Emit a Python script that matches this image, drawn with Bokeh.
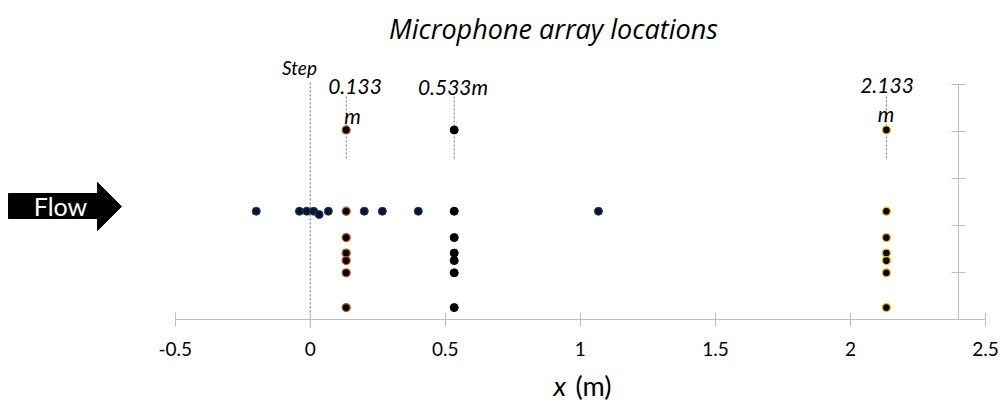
from bokeh.plotting import figure
from bokeh.models import Range1d, LinearAxis, FixedTicker, Label, PolyAnnotation
from bokeh.embed import file_html
from bokeh.resources import INLINE

# ---------------- data ----------------
flow_x = [-0.2, -0.04, -0.013, 0.013, 0.033, 0.067, 0.2, 0.267, 0.4, 1.067]
flow_y = [2.31, 2.31, 2.31, 2.31, 2.24, 2.31, 2.31, 2.31, 2.31, 2.31]

array_y = [4.04, 2.31, 1.75, 1.42, 1.26, 1.0, 0.26]
col1_x = [0.133] * 7
col2_x = [0.533] * 7
col3_x = [2.133] * 7

step_x = [0.0]
guide_x = [0.133, 0.533, 2.133]

x_ticks = [-0.5, 0, 0.5, 1, 1.5, 2, 2.5]
x_tick_labels = ["-0.5", "0", "0.5", "1", "1.5", "2", "2.5"]
y_ticks = [0, 1, 2, 3, 4, 5]

# ---------------- geometry helpers (pixel -> data) ----------------
W, H = 1001, 401
PX_X0 = 174.7      # pixel of x = -0.5
PX_PER_X = 270.1
PX_Y0 = 319.3      # pixel of y = 0
PX_PER_Y = 47.0

def dx(px):
    return -0.5 + (px - PX_X0) / PX_PER_X

def dy(py):
    return (PX_Y0 - py) / PX_PER_Y

FONT = "Lato"
AXIS_COLOR = "#bfbfbf"
DASH_COLOR = "#4a6fa5"

p = figure(width=W, height=H, output_backend="svg", toolbar_location=None,
           x_range=Range1d(dx(0), dx(W)), y_range=Range1d(dy(H), dy(0)),
           min_border_left=0, min_border_right=0, min_border_top=0,
           min_border_bottom=0, x_axis_location=None, y_axis_location=None)
p.outline_line_color = None
p.grid.visible = False
p.background_fill_color = "white"
p.border_fill_color = "white"

# x axis at y = 0
xa = LinearAxis(ticker=FixedTicker(ticks=x_ticks), bounds=(-0.5, 2.5), fixed_location=0)
xa.major_label_overrides = {t: l for t, l in zip(x_ticks, x_tick_labels)}
xa.axis_line_color = AXIS_COLOR
xa.major_tick_line_color = AXIS_COLOR
xa.major_tick_in = 7
xa.major_tick_out = 7
xa.minor_tick_line_color = None
xa.major_label_text_font = FONT
xa.major_label_text_font_size = "19px"
xa.major_label_text_color = "black"
xa.major_label_standoff = 15
p.add_layout(xa, "below")

# vertical axis at x = 2.4
ya = LinearAxis(ticker=FixedTicker(ticks=y_ticks), bounds=(0, 5), fixed_location=2.4)
ya.axis_line_color = AXIS_COLOR
ya.major_tick_line_color = AXIS_COLOR
ya.major_tick_in = 7
ya.major_tick_out = 7
ya.minor_tick_line_color = None
ya.major_label_text_font_size = "0px"
ya.major_label_text_color = None
p.add_layout(ya, "left")

# dashed guide lines
p.segment(x0=step_x, x1=step_x, y0=[dy(82)] * len(step_x), y1=[dy(327)] * len(step_x),
          line_color=DASH_COLOR, line_dash="2 2", line_width=1)
p.segment(x0=guide_x, x1=guide_x, y0=[dy(96)] * len(guide_x), y1=[dy(160)] * len(guide_x),
          line_color=DASH_COLOR, line_dash="2 2", line_width=1)

# points
p.scatter(flow_x, flow_y, size=8, fill_color="#0b1530", line_color="#1f3864", line_width=1)
p.scatter(col1_x, array_y, size=8, fill_color="black", line_color="#c55a11", line_width=1.3)
p.scatter(col2_x, array_y, size=8, fill_color="black", line_color="black", line_width=1)
p.scatter(col3_x, array_y, size=8, fill_color="black", line_color="#ffc000", line_width=1.3)

# flow arrow
arrow_px = [(8, 193), (97, 193), (97, 182), (121, 206), (97, 230), (97, 218), (8, 218)]
p.add_layout(PolyAnnotation(xs=[dx(a) for a, b in arrow_px], ys=[dy(b) for a, b in arrow_px],
                            fill_color="black", fill_alpha=1, line_color="black", line_alpha=1))

def lab(text, px, py, size, style="italic", color="black", align="center", font=FONT):
    p.add_layout(Label(x=dx(px), y=dy(py), text=text, text_font=font,
                       text_font_size=f"{size}px", text_font_style=style,
                       text_color=color, text_align=align, text_baseline="middle"))

lab("Flow", 60, 205, 25, style="normal", color="white")
lab("Microphone array locations", 553, 28, 27, font="Open Sans")
lab("Step", 299, 67, 19)
lab("0.133", 354.5, 86, 21)
lab("m", 352, 115, 21)
lab("0.533m", 452.5, 86, 21)
lab("2.133", 886.5, 85, 21)
lab("m", 885.5, 113, 21)
lab("x", 553, 385, 27, align="left")
lab("(m)", 575, 385, 27, style="normal", align="left")

open("out.html", "w").write(file_html(p, INLINE))
